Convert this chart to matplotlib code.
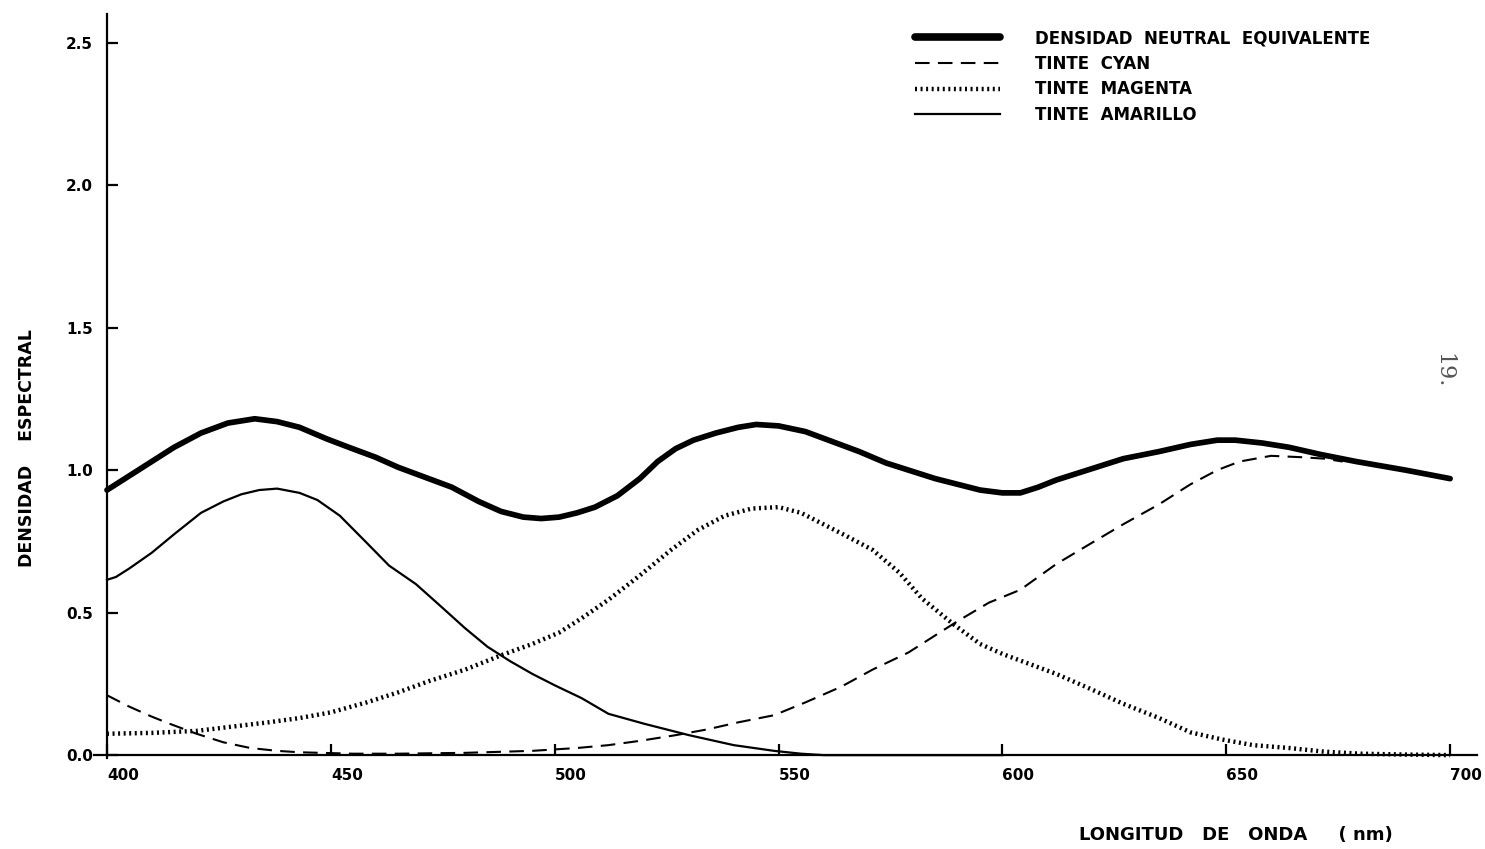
import numpy as np
import matplotlib.pyplot as plt

# densidad neutral equivalente (curva gruesa)
wl_neutral = [400, 405, 410, 415, 421, 427, 433, 438, 443, 449, 454, 460, 465, 471,
              477, 483, 488, 493, 497, 501, 505, 509, 514, 519, 523, 527, 531, 536,
              541, 545, 550, 556, 562, 568, 574, 579, 585, 590, 595, 600, 604, 608,
              612, 620, 627, 635, 642, 648, 652, 658, 664, 671, 679, 690, 700]
d_neutral = [0.93, 0.98, 1.03, 1.08, 1.13, 1.165, 1.18, 1.17, 1.15, 1.11, 1.08, 1.045,
             1.01, 0.975, 0.94, 0.89, 0.855, 0.835, 0.83, 0.835, 0.85, 0.87, 0.91, 0.97,
             1.03, 1.075, 1.105, 1.13, 1.15, 1.16, 1.155, 1.135, 1.10, 1.065, 1.025, 1.0,
             0.97, 0.95, 0.93, 0.92, 0.92, 0.94, 0.965, 1.005, 1.04, 1.065, 1.09, 1.105,
             1.105, 1.095, 1.08, 1.055, 1.03, 1.0, 0.97]

# tinte cyan
wl_cyan = [400, 405, 410, 414, 420, 426, 432, 438, 443, 455, 465, 480, 495, 505, 512,
           519, 527, 534, 541, 549, 556, 564, 571, 579, 585, 590, 597, 604, 612, 620,
           627, 635, 642, 648, 653, 660, 667, 672, 676]
d_cyan = [0.21, 0.17, 0.135, 0.11, 0.075, 0.045, 0.025, 0.015, 0.01, 0.005, 0.005, 0.008,
          0.015, 0.025, 0.035, 0.05, 0.07, 0.09, 0.115, 0.14, 0.185, 0.24, 0.30, 0.36,
          0.42, 0.47, 0.535, 0.58, 0.67, 0.745, 0.81, 0.88, 0.95, 1.0, 1.03, 1.05, 1.045,
          1.04, 1.03]

# tinte magenta
wl_magenta = [400, 410, 420, 428, 436, 443, 450, 458, 465, 472, 480, 488, 495, 501, 506,
              512, 519, 526, 532, 538, 544, 550, 555, 560, 565, 571, 577, 582, 589, 595,
              600, 606, 612, 620, 627, 635, 642, 649, 656, 664, 672, 680, 690, 700]
d_magenta = [0.075, 0.078, 0.085, 0.10, 0.115, 0.13, 0.15, 0.185, 0.22, 0.26, 0.30, 0.35,
             0.39, 0.43, 0.48, 0.545, 0.63, 0.72, 0.79, 0.84, 0.865, 0.87, 0.85, 0.81,
             0.77, 0.72, 0.64, 0.55, 0.46, 0.39, 0.355, 0.32, 0.285, 0.23, 0.18, 0.13,
             0.08, 0.055, 0.035, 0.025, 0.012, 0.005, 0.002, 0.0]

# tinte amarillo
wl_yellow = [400, 402, 405, 410, 415, 421, 426, 430, 434, 438, 443, 447, 452, 458, 463,
             469, 474, 480, 485, 490, 495, 500, 506, 512, 520, 530, 540, 549, 555, 560,
             580, 600]
d_yellow = [0.615, 0.625, 0.655, 0.71, 0.775, 0.85, 0.89, 0.915, 0.93, 0.935, 0.92, 0.895,
            0.84, 0.745, 0.665, 0.60, 0.53, 0.445, 0.38, 0.33, 0.285, 0.245, 0.20, 0.145,
            0.11, 0.07, 0.035, 0.015, 0.005, 0.0, 0.0, 0.0]

x_ticks = [400, 450, 500, 550, 600, 650, 700]
y_ticks = [0.0, 0.5, 1.0, 1.5, 2.0, 2.5]

labels = ['DENSIDAD  NEUTRAL  EQUIVALENTE', 'TINTE  CYAN',
          'TINTE  MAGENTA', 'TINTE  AMARILLO']

fig = plt.figure(figsize=(14.85, 8.49), dpi=100)
ax = fig.add_axes([0.0630, 0.1005, 0.9316, 0.883])

ax.plot(wl_neutral, d_neutral, color='black', lw=4.1, solid_capstyle='round',
        label=labels[0])
ax.plot(wl_cyan, d_cyan, color='black', lw=1.5, linestyle=(0, (7, 4)),
        label=labels[1])
ax.plot(wl_magenta, d_magenta, color='black', lw=3.2, linestyle=(0, (0.45, 0.8)),
        dash_capstyle='butt', label=labels[2])
ax.plot(wl_yellow, d_yellow, color='black', lw=1.6, label=labels[3])

ax.set_xlim(397, 706)
ax.set_ylim(-0.03, 2.6)

for side in ['top', 'right']:
    ax.spines[side].set_visible(False)
ax.spines['left'].set_position(('data', 400))
ax.spines['bottom'].set_position(('data', 0))
ax.spines['left'].set_bounds(-0.01, 2.6)
for side in ['left', 'bottom']:
    ax.spines[side].set_linewidth(1.6)

ax.set_xticks(x_ticks)
ax.set_xticklabels([str(v) for v in x_ticks])
ax.set_yticks(y_ticks)
ax.set_yticklabels(['%.1f' % v for v in y_ticks])
ax.tick_params(axis='both', direction='in', length=8, width=1.6,
               labelsize=11)
ax.tick_params(axis='x', pad=9)
ax.tick_params(axis='y', pad=10)
for lbl in ax.get_xticklabels():
    lbl.set_horizontalalignment('left')
    lbl.set_fontweight('bold')
for lbl in ax.get_yticklabels():
    lbl.set_fontweight('bold')

fig.text(27 / 1485, 1 - 448 / 849, 'DENSIDAD    ESPECTRAL', rotation=90,
         ha='center', va='center', fontsize=12.5, fontweight='bold')
fig.text(1236 / 1485, 1 - 835 / 849, 'LONGITUD   DE   ONDA     ( nm)',
         ha='center', va='center', fontsize=13, fontweight='bold')

fig.text(1443 / 1485, 1 - 371 / 849, '19.', rotation=-90, ha='center',
         va='center', fontsize=16, family='DejaVu Serif', color='#555555')

leg = ax.legend(loc='upper left', bbox_to_anchor=(915 / 1485, 1 - 29 / 849),
                bbox_transform=fig.transFigure, frameon=False, borderpad=0,
                borderaxespad=0, handlelength=5.1, handletextpad=2.1,
                labelspacing=0.46, prop={'size': 12, 'weight': 'bold'})
leg.get_lines()[0].set_linewidth(5.5)

fig.savefig('out.png', dpi=100)
